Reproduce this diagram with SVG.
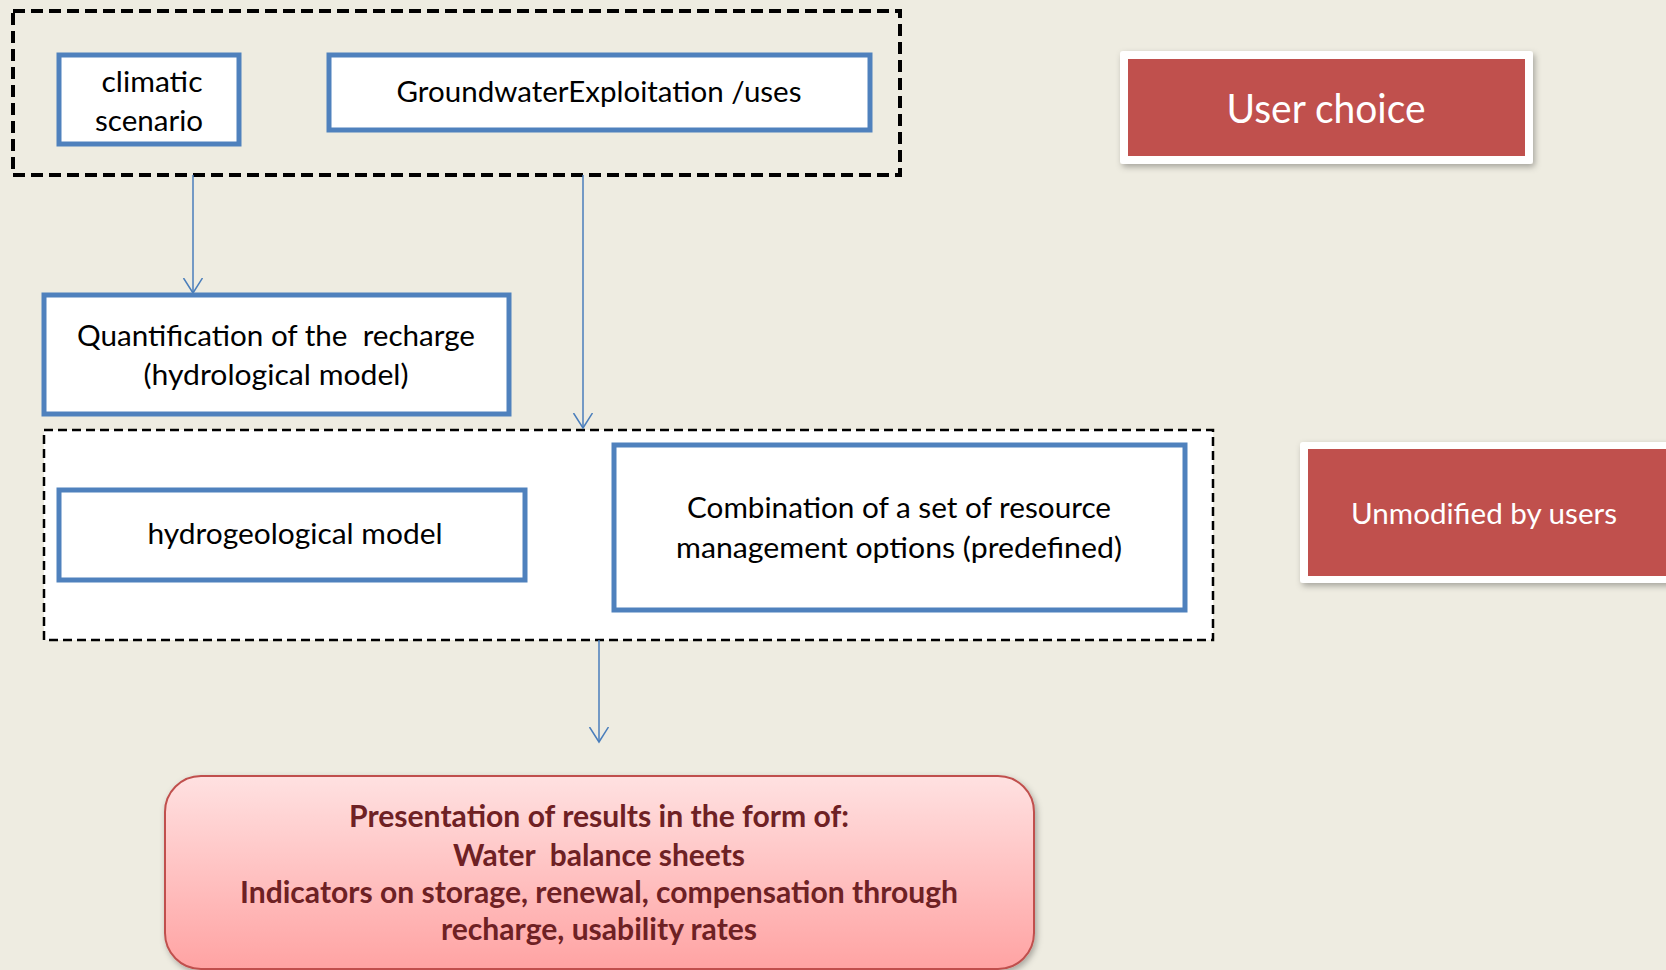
<svg xmlns="http://www.w3.org/2000/svg" width="1666" height="970" viewBox="0 0 1666 970">
<defs>
<style>
.bg{fill:#eeece1}
.box{fill:#ffffff;stroke:#4f81bd;stroke-width:5}
.t{font-family:Lato,"Open Sans","Liberation Sans",sans-serif;font-size:29px;fill:#000;text-anchor:middle}
.w{font-family:Lato,"Open Sans","Liberation Sans",sans-serif;fill:#fff;text-anchor:middle}
.r{font-family:Lato,"Liberation Sans",sans-serif;font-weight:bold;font-size:31px;fill:#6e2124;text-anchor:middle}
.red{fill:#c0504d}
.frame{fill:#ffffff}
.conn{stroke:#4a7ebb;stroke-width:1.5;fill:none}
.pre{white-space:pre}
</style>
<marker id="arr" markerWidth="18" markerHeight="22" refX="15" refY="10" orient="auto" markerUnits="userSpaceOnUse">
<path d="M0,0.5 L15,10 L0,19.5" fill="none" stroke="#4a7ebb" stroke-width="1.5"/>
</marker>
<linearGradient id="rg" x1="0" y1="0" x2="0" y2="1">
<stop offset="0" stop-color="#ffe1e1"/>
<stop offset="1" stop-color="#ffa3a3"/>
</linearGradient>
<filter id="sh" x="-10%" y="-10%" width="125%" height="130%">
<feDropShadow dx="2" dy="3" stdDeviation="3" flood-color="#000" flood-opacity="0.3"/>
</filter>
</defs>
<rect class="bg" x="0" y="0" width="1666" height="970"/>

<g id="group-user">
<rect x="13" y="11" width="887" height="164" fill="none" stroke="#000" stroke-width="4" stroke-dasharray="12,6"/>
</g>
<g id="group-fixed">
<rect x="44" y="430" width="1169" height="210" fill="#ffffff" stroke="#000" stroke-width="2.5" stroke-dasharray="9,5"/>
</g>

<g id="connectors">
<line class="conn" x1="193" y1="175" x2="193" y2="293" marker-end="url(#arr)"/>
<line class="conn" x1="583" y1="175" x2="583" y2="428" marker-end="url(#arr)"/>
<line class="conn" x1="599" y1="640" x2="599" y2="742" marker-end="url(#arr)"/>
</g>

<g id="climatic">
<rect class="box" x="59" y="55" width="180" height="89"/>
<text class="t" x="152" y="92" textLength="101" lengthAdjust="spacingAndGlyphs">climatic</text>
<text class="t" x="149" y="131" textLength="108" lengthAdjust="spacingAndGlyphs">scenario</text>
</g>

<g id="groundwater">
<rect class="box" x="329" y="55" width="541" height="75"/>
<text class="t" x="599" y="102" textLength="405" lengthAdjust="spacingAndGlyphs">GroundwaterExploitation /uses</text>
</g>

<g id="quantification">
<rect class="box" x="44" y="295" width="465" height="119"/>
<text class="t pre" xml:space="preserve" x="276" y="346" textLength="398" lengthAdjust="spacingAndGlyphs">Quantification of the  recharge</text>
<text class="t" x="276" y="385" textLength="265" lengthAdjust="spacingAndGlyphs">(hydrological model)</text>
</g>

<g id="hydrogeological">
<rect class="box" x="59" y="490" width="466" height="90"/>
<text class="t" x="295" y="544" textLength="295" lengthAdjust="spacingAndGlyphs">hydrogeological model</text>
</g>

<g id="combination">
<rect class="box" x="614" y="445" width="571" height="165"/>
<text class="t" x="899" y="518" textLength="424" lengthAdjust="spacingAndGlyphs">Combination of a set of resource</text>
<text class="t" x="899" y="558" textLength="446" lengthAdjust="spacingAndGlyphs">management options (predefined)</text>
</g>

<g id="user-choice">
<rect class="frame" x="1120" y="51" width="413" height="113" rx="3" filter="url(#sh)"/>
<rect class="red" x="1128" y="59" width="397" height="97"/>
<text class="w" x="1326" y="123" font-size="41" textLength="199" lengthAdjust="spacingAndGlyphs">User choice</text>
</g>

<g id="unmodified">
<rect class="frame" x="1300" y="442" width="380" height="141" rx="3" filter="url(#sh)"/>
<rect class="red" x="1308" y="449" width="360" height="127"/>
<text class="w" x="1484" y="524" font-size="29" textLength="266" lengthAdjust="spacingAndGlyphs">Unmodified by users</text>
</g>

<g id="results">
<rect x="165" y="776" width="869" height="193" rx="36" fill="url(#rg)" stroke="#c0504d" stroke-width="2" filter="url(#sh)"/>
<text class="r" x="599" y="827" textLength="500" lengthAdjust="spacingAndGlyphs">Presentation of results in the form of:</text>
<text class="r pre" xml:space="preserve" x="599" y="866" textLength="292" lengthAdjust="spacingAndGlyphs">Water  balance sheets</text>
<text class="r" x="599" y="903" textLength="718" lengthAdjust="spacingAndGlyphs">Indicators on storage, renewal, compensation through</text>
<text class="r" x="599" y="940" textLength="316" lengthAdjust="spacingAndGlyphs">recharge, usability rates</text>
</g>
</svg>
